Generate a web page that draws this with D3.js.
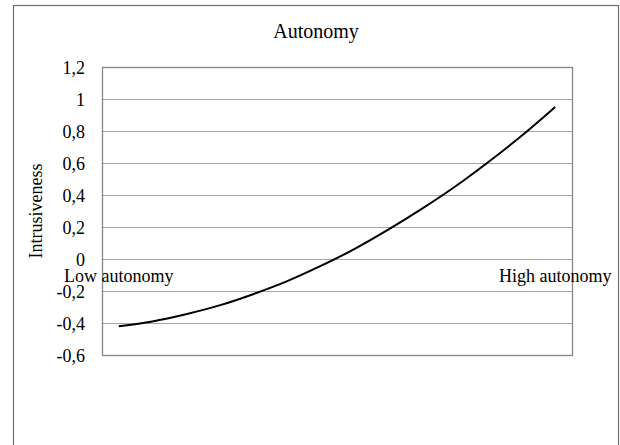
<!DOCTYPE html>
<html>
<head>
<meta charset="utf-8">
<script src="https://cdn.jsdelivr.net/npm/d3@7"></script>
<style>
  body { margin: 0; background: #fff; }
  svg text { font-family: "Liberation Serif", "Times New Roman", serif; fill: #000; }
</style>
</head>
<body>
<svg id="chart"></svg>
<script>
// categories along x (only the ends carry a label)
const categories = d3.range(14);
const categoryLabels = ["Low autonomy", "", "", "", "", "", "", "", "", "", "", "", "", "High autonomy"];
// intrusiveness
const intrusiveness = [-0.42, -0.39, -0.345, -0.29, -0.22, -0.14, -0.045, 0.06, 0.18, 0.31, 0.45, 0.605, 0.77, 0.95];
const yTicks = [-0.6, -0.4, -0.2, 0, 0.2, 0.4, 0.6, 0.8, 1, 1.2];

const width = 620, height = 445;
const margin = {top: 67, right: 48, bottom: 90, left: 102};
const innerW = width - margin.left - margin.right;
const innerH = height - margin.top - margin.bottom;

const svg = d3.select('#chart')
    .attr('width', width)
    .attr('height', height);

// outer chart frame
svg.append('rect')
    .attr('x', 13.5).attr('y', 5.5)
    .attr('width', 605).attr('height', 460)
    .attr('fill', 'none')
    .attr('stroke', '#6e6e6e')
    .attr('stroke-width', 1.2);

svg.append('text')
    .attr('x', 316).attr('y', 38)
    .attr('text-anchor', 'middle')
    .attr('font-size', 20)
    .text('Autonomy');

const chart = svg.append('g')
    .attr('transform', `translate(${margin.left},${margin.top})`);

const xScale = d3.scaleBand()
    .domain(categories)
    .range([0, innerW])
    .padding(0);

const yScale = d3.scaleLinear()
    .domain([-0.6, 1.2])
    .range([innerH, 0]);

// decimal comma and a plain hyphen for negatives
const fmt = d => String(+d.toFixed(1)).replace('.', ',');

// gridlines
chart.append('g')
    .selectAll('line')
    .data(yTicks)
    .join('line')
    .attr('x1', 0).attr('x2', innerW)
    .attr('y1', d => Math.round(yScale(d)) + 0.5)
    .attr('y2', d => Math.round(yScale(d)) + 0.5)
    .attr('stroke', '#a6a6a6')
    .attr('stroke-width', 1.2);

// y axis labels
const yAxis = d3.axisLeft(yScale)
    .tickValues(yTicks)
    .tickSize(0)
    .tickPadding(17)
    .tickFormat(fmt);

const yAxisG = chart.append('g').call(yAxis);
yAxisG.select('.domain').remove();
yAxisG.selectAll('text')
    .attr('font-size', 18)
    .attr('font-family', '"Liberation Serif", serif')
    .attr('dy', '0.35em');

// plot border
chart.append('rect')
    .attr('x', 0.5).attr('y', 0.5)
    .attr('width', innerW).attr('height', innerH)
    .attr('fill', 'none')
    .attr('stroke', '#858585')
    .attr('stroke-width', 1.3);

// category labels sit just under the zero line
const xAxis = d3.axisBottom(xScale)
    .tickSize(0)
    .tickPadding(0)
    .tickFormat((d, i) => categoryLabels[i]);

const xAxisG = chart.append('g')
    .attr('transform', `translate(0,${yScale(0)})`)
    .call(xAxis);
xAxisG.select('.domain').remove();
xAxisG.selectAll('text')
    .attr('font-size', 18)
    .attr('font-family', '"Liberation Serif", serif')
    .attr('y', 23)
    .attr('dy', 0);

const line = d3.line()
    .x((d, i) => xScale(categories[i]) + xScale.bandwidth() / 2)
    .y(d => yScale(d))
    .curve(d3.curveCatmullRom.alpha(0.5));

chart.append('path')
    .datum(intrusiveness)
    .attr('fill', 'none')
    .attr('stroke', '#000')
    .attr('stroke-width', 2)
    .attr('d', line);

svg.append('text')
    .attr('transform', `translate(42,${margin.top + innerH / 2}) rotate(-90)`)
    .attr('text-anchor', 'middle')
    .attr('font-size', 18)
    .text('Intrusiveness');
</script>
</body>
</html>
